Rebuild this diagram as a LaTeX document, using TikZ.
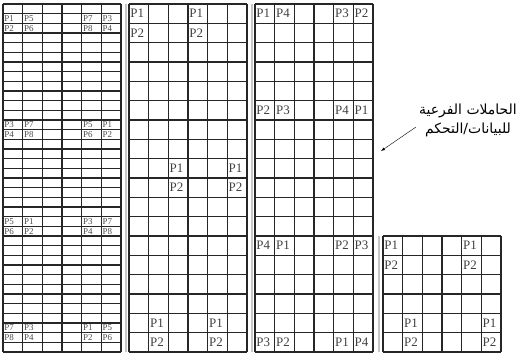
\documentclass[tikz,border=0pt]{standalone}
\usepackage{fontspec}
\setmainfont{Liberation Serif}
\newfontfamily\arabicfont[Script=Arabic]{DejaVu Sans}
\TeXXeTstate=1
\usetikzlibrary{arrows.meta}

\begin{document}
\begin{tikzpicture}[
                >=latex,
                x=1bp, y=1bp,
                gridline/.style={line width=1.6bp, draw=black!85},
                sepline/.style={line width=1.4bp, draw=black!22},
                lbl/.style={anchor=west, inner sep=0pt, text=black!75, font=\fontsize{13}{13}\selectfont},
                tinylbl/.style={anchor=west, inner sep=0pt, text=black!70, font=\fontsize{9}{9}\selectfont},
                note/.style={align=center, inner sep=1bp, font=\arabicfont\fontsize{14}{19}\selectfont},
                pointer/.style={draw, ->, thin}
            ]
                \useasboundingbox (0,0) rectangle (531,354);

                % --- TRENNLINIEN ---
                \draw[sepline] (126,2) -- (126,350);
                \draw[sepline] (252,2) -- (252,350);
                \draw[sepline] (379,2) -- (379,118);

                % --- RASTER 1 (36 Zeilen) ---
                \begin{scope}[shift={(3,2)}, x=19.667bp, y=9.667bp]
                \draw[gridline, step=1] (0,0) grid (6,36);
                \node[tinylbl] (a11) at (0.06,34.5) {P1};
                \node[tinylbl] (a12) at (1.06,34.5) {P5};
                \node[tinylbl] (a13) at (4.06,34.5) {P7};
                \node[tinylbl] (a14) at (5.06,34.5) {P3};
                \node[tinylbl] (a21) at (0.06,33.5) {P2};
                \node[tinylbl] (a22) at (1.06,33.5) {P6};
                \node[tinylbl] (a23) at (4.06,33.5) {P8};
                \node[tinylbl] (a24) at (5.06,33.5) {P4};
                \node[tinylbl] (a31) at (0.06,23.5) {P3};
                \node[tinylbl] (a32) at (1.06,23.5) {P7};
                \node[tinylbl] (a33) at (4.06,23.5) {P5};
                \node[tinylbl] (a34) at (5.06,23.5) {P1};
                \node[tinylbl] (a41) at (0.06,22.5) {P4};
                \node[tinylbl] (a42) at (1.06,22.5) {P8};
                \node[tinylbl] (a43) at (4.06,22.5) {P6};
                \node[tinylbl] (a44) at (5.06,22.5) {P2};
                \node[tinylbl] (a51) at (0.06,13.5) {P5};
                \node[tinylbl] (a52) at (1.06,13.5) {P1};
                \node[tinylbl] (a53) at (4.06,13.5) {P3};
                \node[tinylbl] (a54) at (5.06,13.5) {P7};
                \node[tinylbl] (a61) at (0.06,12.5) {P6};
                \node[tinylbl] (a62) at (1.06,12.5) {P2};
                \node[tinylbl] (a63) at (4.06,12.5) {P4};
                \node[tinylbl] (a64) at (5.06,12.5) {P8};
                \node[tinylbl] (a71) at (0.06,2.5) {P7};
                \node[tinylbl] (a72) at (1.06,2.5) {P3};
                \node[tinylbl] (a73) at (4.06,2.5) {P1};
                \node[tinylbl] (a74) at (5.06,2.5) {P5};
                \node[tinylbl] (a81) at (0.06,1.5) {P8};
                \node[tinylbl] (a82) at (1.06,1.5) {P4};
                \node[tinylbl] (a83) at (4.06,1.5) {P2};
                \node[tinylbl] (a84) at (5.06,1.5) {P6};
                \end{scope}

                % --- RASTER 2 ---
                \begin{scope}[shift={(129,2)}, x=19.667bp, y=19.333bp]
                \draw[gridline, step=1] (0,0) grid (6,18);
                \node[lbl] (b11) at (0.06,17.5) {P1};
                \node[lbl] (b12) at (3.06,17.5) {P1};
                \node[lbl] (b21) at (0.06,16.5) {P2};
                \node[lbl] (b22) at (3.06,16.5) {P2};
                \node[lbl] (b31) at (2.06,9.5) {P1};
                \node[lbl] (b32) at (5.06,9.5) {P1};
                \node[lbl] (b41) at (2.06,8.5) {P2};
                \node[lbl] (b42) at (5.06,8.5) {P2};
                \node[lbl] (b51) at (1.06,1.5) {P1};
                \node[lbl] (b52) at (4.06,1.5) {P1};
                \node[lbl] (b61) at (1.06,0.5) {P2};
                \node[lbl] (b62) at (4.06,0.5) {P2};
                \end{scope}

                % --- RASTER 3 ---
                \begin{scope}[shift={(255,2)}, x=19.667bp, y=19.333bp]
                \draw[gridline, step=1] (0,0) grid (6,18);
                \node[lbl] (c11) at (0.06,17.5) {P1};
                \node[lbl] (c12) at (1.06,17.5) {P4};
                \node[lbl] (c13) at (4.06,17.5) {P3};
                \node[lbl] (c14) at (5.06,17.5) {P2};
                \node[lbl] (c21) at (0.06,12.5) {P2};
                \node[lbl] (c22) at (1.06,12.5) {P3};
                \node[lbl] (c23) at (4.06,12.5) {P4};
                \node[lbl] (c24) at (5.06,12.5) {P1};
                \node[lbl] (c31) at (0.06,5.5) {P4};
                \node[lbl] (c32) at (1.06,5.5) {P1};
                \node[lbl] (c33) at (4.06,5.5) {P2};
                \node[lbl] (c34) at (5.06,5.5) {P3};
                \node[lbl] (c41) at (0.06,0.5) {P3};
                \node[lbl] (c42) at (1.06,0.5) {P2};
                \node[lbl] (c43) at (4.06,0.5) {P1};
                \node[lbl] (c44) at (5.06,0.5) {P4};
                \end{scope}

                % --- RASTER 4 ---
                \begin{scope}[shift={(383,2)}, x=19.667bp, y=19.333bp]
                \draw[gridline, step=1] (0,0) grid (6,6);
                \node[lbl] (d11) at (0.06,5.5) {P1};
                \node[lbl] (d12) at (4.06,5.5) {P1};
                \node[lbl] (d21) at (0.06,4.5) {P2};
                \node[lbl] (d22) at (4.06,4.5) {P2};
                \node[lbl] (d31) at (1.06,1.5) {P1};
                \node[lbl] (d32) at (5.06,1.5) {P1};
                \node[lbl] (d41) at (1.06,0.5) {P2};
                \node[lbl] (d42) at (5.06,0.5) {P2};
                \end{scope}

                % --- BESCHRIFTUNG ---
                \node[note] (subbus) at (468,234) {\beginR الحاملات الفرعية\endR\\\beginR للبيانات/التحكم\endR};
                \coordinate (bustip) at (381,203);
                \draw[pointer] ([xshift=-2bp,yshift=-7bp]subbus.west) -- (bustip);

            \end{tikzpicture}
\end{document}
